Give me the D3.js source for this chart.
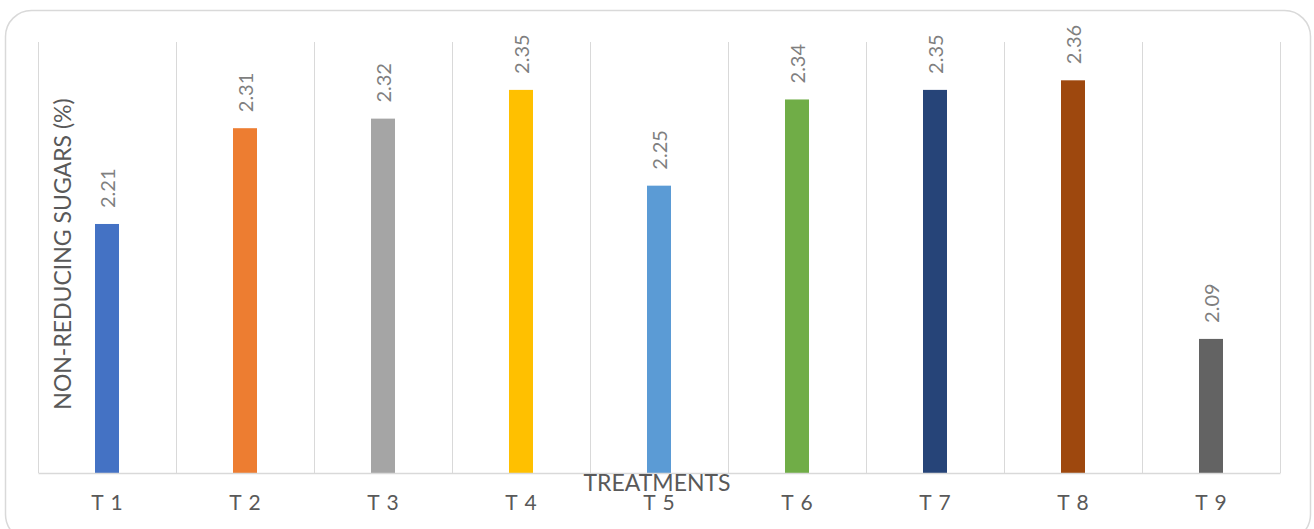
<!DOCTYPE html>
<html><head><meta charset="utf-8">
<script src="https://cdn.jsdelivr.net/npm/d3@7/dist/d3.min.js"></script>
<style>body{margin:0;background:#fff}svg{display:block}</style>
</head><body><svg id="c" width="1314" height="529"></svg>
<script>
const categories = ["T 1","T 2","T 3","T 4","T 5","T 6","T 7","T 8","T 9"];
const values = [2.21, 2.31, 2.32, 2.35, 2.25, 2.34, 2.35, 2.36, 2.09];
const colors = ["#4472C4","#ED7D31","#A5A5A5","#FFC000","#5B9BD5","#70AD47","#264478","#9E480E","#636363"];
const yDomain = [1.95, 2.4];
const xTitle = "TREATMENTS";
const yTitle = "NON-REDUCING SUGARS (%)";

const svg = d3.select("#c");
const font = "Lato, 'Open Sans', sans-serif";
const m = {left:38, right:1280, top:42, bottom:473};

svg.append("rect").attr("x",5.5).attr("y",10.5).attr("width",1305).attr("height",530)
  .attr("rx",26).attr("fill","#fff").attr("stroke","#d9d9d9").attr("stroke-width",1.5);

const x = d3.scaleBand().domain(categories).range([m.left, m.right]).padding(0);
const y = d3.scaleLinear().domain(yDomain).range([m.bottom, m.top]);

// vertical gridlines at category boundaries
const bounds = categories.map(c => x(c)).concat([m.right]);
svg.append("g").selectAll("line").data(bounds).join("line")
  .attr("x1", d=>d+0.5).attr("x2", d=>d+0.5).attr("y1", m.top).attr("y2", m.bottom)
  .attr("stroke","#d9d9d9").attr("stroke-width",1);

const bw = 24;
svg.append("g").selectAll("rect").data(values).join("rect")
  .attr("x",(d,i)=>x(categories[i]) + x.bandwidth()/2 - bw/2)
  .attr("y", d=>y(d)).attr("width", bw).attr("height", d=>m.bottom - y(d))
  .attr("fill",(d,i)=>colors[i]);

// axis
const xAxis = d3.axisBottom(x).tickSize(0);
const gx = svg.append("g").attr("transform",`translate(0,${m.bottom})`).call(xAxis);
gx.select(".domain").attr("stroke","#d9d9d9").attr("stroke-width",1.5);
gx.selectAll("text").attr("font-family",font).attr("font-size",21).attr("fill","#595959")
  .attr("dy",0).attr("y",37).attr("word-spacing",2);

// value labels
svg.append("g").selectAll("text").data(values).join("text")
  .attr("transform",(d,i)=>`translate(${x(categories[i]) + x.bandwidth()/2 + 8},${y(d)-16}) rotate(-90)`)
  .attr("font-family",font).attr("font-size",20).attr("fill","#7f7f7f")
  .text(d=>d.toFixed(2));

// titles
svg.append("text").attr("x",657).attr("y",491).attr("text-anchor","middle")
  .attr("font-family",font).attr("font-size",23).attr("fill","#595959").text(xTitle);
svg.append("text").attr("transform",`translate(71,254) rotate(-90)`).attr("text-anchor","middle")
  .attr("font-family",font).attr("font-size",23).attr("fill","#595959").text(yTitle);
</script></body></html>
